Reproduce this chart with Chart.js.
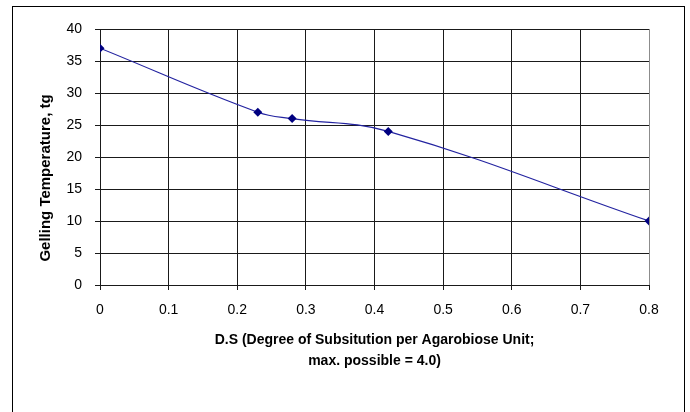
<!DOCTYPE html>
<html>
<head>
<meta charset="utf-8">
<script src="https://cdn.jsdelivr.net/npm/chart.js@4"></script>
<style>
  body { margin: 0; background: #fff; }
  canvas { display: block; }
</style>
</head>
<body>
<canvas id="canvas" width="690" height="412"></canvas>
<script>
// data
var dsValues   = [0, 0.23, 0.28, 0.42, 0.8];
var gelTemps   = [37, 27, 26, 24, 10];
var xTicks     = [0, 0.1, 0.2, 0.3, 0.4, 0.5, 0.6, 0.7, 0.8];
var yTicks     = [0, 5, 10, 15, 20, 25, 30, 35, 40];
var xTitle     = ["D.S (Degree of Subsitution per Agarobiose Unit;", "max. possible = 4.0)"];
var yTitle     = "Gelling Temperature, tg";

var points = dsValues.map(function(v, i) { return { x: v, y: gelTemps[i] }; });

// outer frame of the chart object + y title (excel centres it lower than the plot)
var framePlugin = {
	id: 'frame',
	beforeDraw: function(chart) {
		var c = chart.ctx;
		c.save();
		c.fillStyle = '#ffffff';
		c.fillRect(0, 0, chart.width, chart.height);
		c.strokeStyle = '#000000';
		c.lineWidth = 1;
		c.strokeRect(12.5, 6.5, 672, 430);
		c.restore();
	},
	afterDraw: function(chart) {
		var c = chart.ctx;
		c.save();
		c.translate(46, 178);
		c.rotate(-Math.PI / 2);
		c.fillStyle = '#000';
		c.font = 'bold 15px "Liberation Sans", Arial, sans-serif';
		c.textAlign = 'center';
		c.textBaseline = 'middle';
		c.fillText(yTitle, 0, 0);
		c.restore();
	}
};

var ctx = document.getElementById("canvas").getContext("2d");
var chart = new Chart(ctx, {
	type: 'scatter',
	data: {
		datasets: [{
			data: points,
			showLine: true,
			tension: 0.4,
			borderColor: '#2323a0',
			borderWidth: 1.2,
			pointStyle: 'rectRot',
			pointRadius: 4.5,
			pointBackgroundColor: '#000080',
			pointBorderColor: '#000080',
			pointBorderWidth: 0
		}]
	},
	options: {
		responsive: false,
		animation: false,
		layout: { padding: { left: 0, right: 41, top: 29, bottom: 0 } },
		plugins: {
			legend: { display: false },
			tooltip: { enabled: false }
		},
		scales: {
			x: {
				type: 'linear',
				min: 0,
				max: 0.8,
				afterBuildTicks: function(scale) {
					scale.ticks = xTicks.map(function(v) { return { value: v }; });
				},
				afterFit: function(scale) { scale.height = 127; },
				ticks: {
					color: '#000',
					padding: 12,
					maxRotation: 0,
					font: { family: 'Liberation Sans, Arial, sans-serif', size: 14 },
					callback: function(v) { return String(Math.round(v * 10) / 10); }
				},
				grid: {
					color: function(c) { return (c.tick && c.tick.value === 0.8) ? '#8c8c8c' : '#1a1a1a'; },
					tickColor: '#1a1a1a',
					tickLength: 5,
					lineWidth: 1
				},
				border: { display: true, color: '#1a1a1a' },
				title: {
					display: true,
					text: xTitle,
					color: '#000',
					font: { family: 'Liberation Sans, Arial, sans-serif', size: 14, weight: 'bold', lineHeight: 1.5 },
					padding: { top: 0, bottom: 40 }
				}
			},
			y: {
				type: 'linear',
				min: 0,
				max: 40,
				afterBuildTicks: function(scale) {
					scale.ticks = yTicks.map(function(v) { return { value: v }; });
				},
				afterFit: function(scale) { scale.width = 100; },
				ticks: {
					color: '#000',
					padding: 13,
					font: { family: 'Liberation Sans, Arial, sans-serif', size: 14 }
				},
				grid: {
					color: '#1a1a1a',
					tickColor: '#1a1a1a',
					tickLength: 5,
					lineWidth: 1
				},
				border: { display: true, color: '#1a1a1a' },
				title: { display: false }
			}
		}
	},
	plugins: [framePlugin]
});
</script>
</body>
</html>
